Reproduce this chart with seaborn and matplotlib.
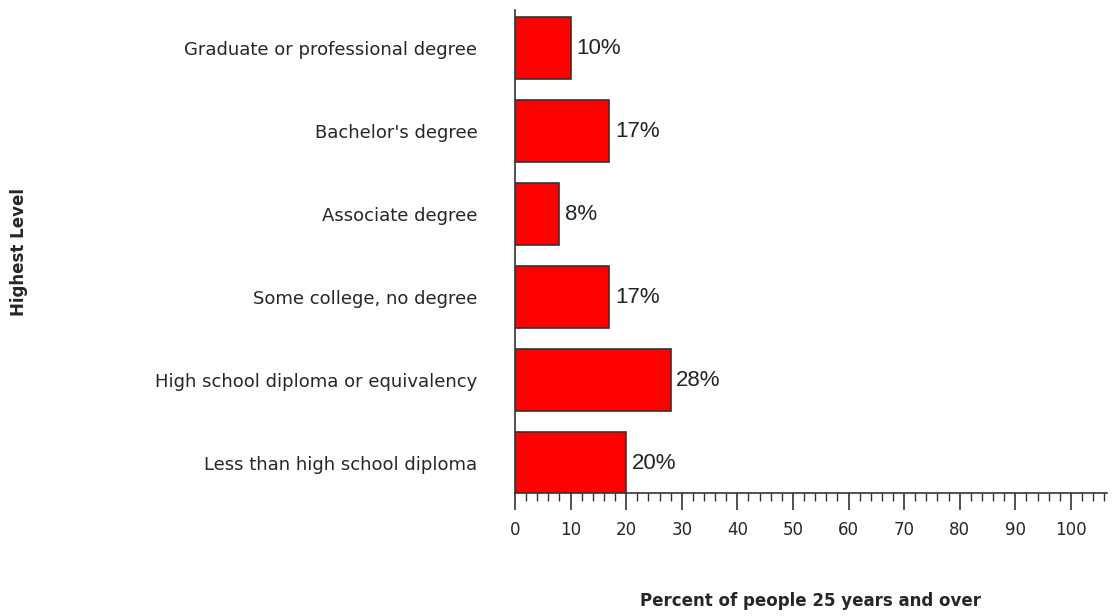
import matplotlib
matplotlib.use("Agg")
import matplotlib.pyplot as plt
import seaborn as sns
import pandas as pd
from matplotlib.ticker import MultipleLocator

categories = ["Graduate or professional degree", "Bachelor's degree", "Associate degree",
              "Some college, no degree", "High school diploma or equivalency",
              "Less than high school diploma"]
values = [10, 17, 8, 17, 28, 20]
labels = ["10%", "17%", "8%", "17%", "28%", "20%"]

df = pd.DataFrame({"cat": categories, "val": values})
sns.set_style("white")
plt.rcParams['font.family'] = ['DejaVu Sans']
fig = plt.figure(figsize=(11.12, 6.16), dpi=100)
ax = fig.add_axes([515/1112, 1-493/616, 592/1112, 483/616])
sns.barplot(data=df, x="val", y="cat", order=categories, color="#ff0000",
            saturation=1, width=0.75, edgecolor="#333333", linewidth=1.2, ax=ax)
ax.set_xlim(0, 106.5)
ax.set_ylim(5.36, -0.46)
for i, (v, l) in enumerate(zip(values, labels)):
    ax.text(v + 1, i, l, va="center", ha="left", fontsize=16, color="#222222",
            family="Liberation Sans")
for s in ["top", "right"]:
    ax.spines[s].set_visible(False)
for s in ["left", "bottom"]:
    ax.spines[s].set_color("#333333"); ax.spines[s].set_linewidth(1.2)
ax.xaxis.set_major_locator(MultipleLocator(10))
ax.xaxis.set_minor_locator(MultipleLocator(2))
ax.set_xticks(range(0, 101, 10))
ax.tick_params(axis="x", which="major", length=12, width=1.2, color="#333333", labelsize=12, pad=8, bottom=True)
ax.tick_params(axis="x", which="minor", length=6, width=1, color="#333333", bottom=True)
ax.tick_params(axis="y", length=0, labelsize=13, pad=27)
ax.set_xlabel("Percent of people 25 years and over", fontsize=12, fontweight="bold", labelpad=38)
ax.set_ylabel("Highest Level", fontsize=12, fontweight="bold")
ax.yaxis.set_label_coords(-(515-28)/592, 0.5)
fig.savefig("out.png", dpi=100)
